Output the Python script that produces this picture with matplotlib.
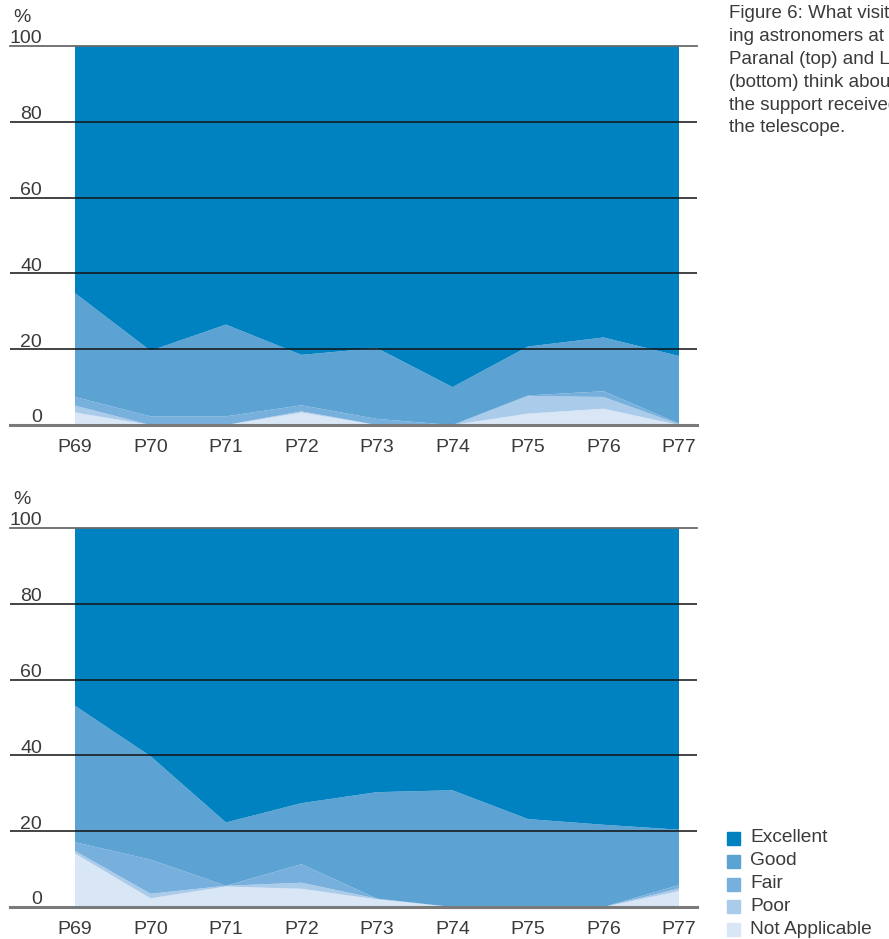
import numpy as np
import matplotlib
matplotlib.use("Agg")
import matplotlib.pyplot as plt
from matplotlib.patches import Rectangle

plt.rcParams['font.family'] = ['Liberation Sans', 'DejaVu Sans']

periods = ["P69", "P70", "P71", "P72", "P73", "P74", "P75", "P76", "P77"]
categories = ["Not Applicable", "Poor", "Fair", "Good", "Excellent"]

# Paranal (top), percentages per period
top_na = [3.3, 0, 0, 3.3, 0, 0, 3.0, 4.3, 0]
top_poor = [1.8, 0, 0, 0.3, 0, 0, 4.6, 3.1, 0.2]
top_fair = [2.3, 2.3, 2.3, 1.6, 1.6, 0, 0.2, 1.5, 0.2]
top_good = [27.4, 17.3, 24.2, 13.3, 18.7, 10.0, 12.9, 14.2, 17.8]
top_excellent = [65.2, 80.4, 73.5, 81.5, 79.7, 90.0, 79.3, 76.9, 81.8]

# La Silla (bottom)
bot_na = [14.1, 2.3, 5.4, 4.8, 2.0, 0, 0, 0, 4.2]
bot_poor = [0.7, 1.2, 0.2, 1.6, 0.2, 0, 0, 0, 0.7]
bot_fair = [2.3, 9.0, 0, 4.9, 0, 0, 0, 0, 0.9]
bot_good = [36.0, 27.3, 16.7, 16.1, 28.1, 30.8, 23.2, 21.7, 14.6]
bot_excellent = [46.9, 60.2, 77.7, 72.6, 69.7, 69.2, 76.8, 78.3, 79.6]

yticks = [0, 20, 40, 60, 80, 100]

colors = {"Excellent": "#0082c1", "Good": "#5ca3d3", "Fair": "#78b0dd",
          "Poor": "#abcbeb", "Not Applicable": "#d9e6f6"}
text_col = "#3a3a3a"

caption = ["Figure 6: What visit-", "ing astronomers at", "Paranal (top) and La Silla",
           "(bottom) think about", "the support received at", "the telescope."]

W, H = 889, 939
fig = plt.figure(figsize=(W / 100, H / 100), dpi=100)


def make_panel(bottom_px, series):
    ax = fig.add_axes([10 / W, (H - bottom_px) / H, 687 / W, 379 / H])
    x = np.arange(len(periods))
    ax.stackplot(x, *series, colors=[colors[c] for c in categories],
                 linewidth=0, edgecolor="none", antialiased=True)
    ax.set_xlim((10 - 75) / 75.5, (697 - 75) / 75.5)
    ax.set_ylim(0, 100)
    for v in yticks:
        if v == 0:
            ax.axhline(v, color="#7a7a7a", lw=2.2, zorder=5, clip_on=False)
        elif v == 100:
            ax.axhline(v, color="#6a6a6a", lw=1.3, zorder=5, clip_on=False)
        else:
            ax.axhline(v, color="#111111", lw=1.1, zorder=5)
        ax.text(32 / 687, v + 0.7, str(v), transform=ax.get_yaxis_transform(),
                ha="right", va="baseline", fontsize=14, color=text_col, clip_on=False)
    ax.text(3 / 687, 1 + 24 / 379, "%", transform=ax.transAxes, ha="left",
            va="baseline", fontsize=14, color=text_col)
    ax.set_xticks(x)
    ax.set_xticklabels(periods, fontsize=14, color=text_col)
    ax.tick_params(axis="x", length=0, pad=10)
    ax.set_yticks([])
    for s in ax.spines.values():
        s.set_visible(False)
    return ax


make_panel(425, [top_na, top_poor, top_fair, top_good, top_excellent])
make_panel(907, [bot_na, bot_poor, bot_fair, bot_good, bot_excellent])

# caption (runs off the right edge, as in the source page)
for i, line in enumerate(caption):
    fig.text(729 / W, 1 - (5 + i * 22.9) / H, line, ha="left", va="top",
             fontsize=13.5, color=text_col)

# legend
legend_order = ["Excellent", "Good", "Fair", "Poor", "Not Applicable"]
for i, name in enumerate(legend_order):
    yc = 838 + i * 22.75
    fig.patches.append(Rectangle((727 / W, 1 - (yc + 7) / H), 13 / W, 13 / H,
                                 transform=fig.transFigure, color=colors[name]))
    fig.text(750 / W, 1 - yc / H, name, ha="left", va="center",
             fontsize=13.8, color=text_col)

fig.savefig("out.png", dpi=100)
